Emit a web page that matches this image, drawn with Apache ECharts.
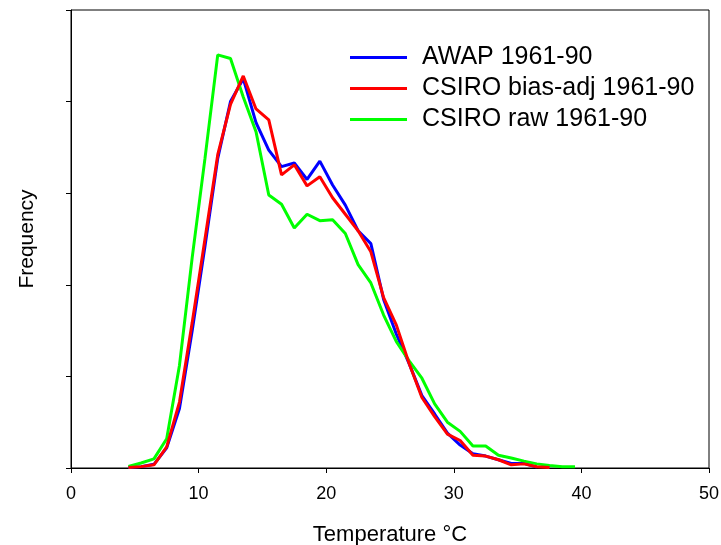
<!DOCTYPE html>
<html>
<head>
<meta charset="utf-8">
<script src="https://cdn.jsdelivr.net/npm/echarts@6/dist/echarts.min.js"></script>
<style>
  html, body { margin: 0; padding: 0; background: #fff; }
</style>
</head>
<body>
<div id="chart" style="width:721px;height:545px;"></div>
<script>
// bin centres (degC)
var temps = [4.5, 5.5, 6.5, 7.5, 8.5, 9.5, 10.5, 11.5, 12.5, 13.5, 14.5, 15.5, 16.5, 17.5, 18.5, 19.5,
  20.5, 21.5, 22.5, 23.5, 24.5, 25.5, 26.5, 27.5, 28.5, 29.5, 30.5, 31.5, 32.5, 33.5, 34.5, 35.5,
  36.5, 37.5, 38.5, 39.5];

var awap = [0.005, 0.015, 0.04, 0.22, 0.65, 1.5, 2.42, 3.38, 4.0, 4.25, 3.77, 3.47, 3.29, 3.33, 3.15, 3.35,
  3.09, 2.87, 2.59, 2.45, 1.84, 1.46, 1.14, 0.79, 0.59, 0.38, 0.25, 0.155, 0.13, 0.09, 0.05, 0.05,
  0.01];

var csiroAdj = [0.005, 0.015, 0.035, 0.23, 0.72, 1.59, 2.5, 3.42, 3.97, 4.28, 3.92, 3.8, 3.2, 3.31, 3.08, 3.18,
  2.95, 2.77, 2.59, 2.36, 1.86, 1.56, 1.14, 0.77, 0.56, 0.37, 0.3, 0.14, 0.13, 0.09, 0.035, 0.045,
  0.013, 0.005];

var csiroRaw = [0.016, 0.055, 0.1, 0.32, 1.12, 2.3, 3.38, 4.51, 4.47, 4.05, 3.67, 2.98, 2.88, 2.62, 2.77, 2.7,
  2.71, 2.56, 2.22, 2.02, 1.67, 1.38, 1.17, 0.98, 0.7, 0.5, 0.4, 0.24, 0.24, 0.14, 0.11, 0.075,
  0.045, 0.027, 0.013, 0.015];

var xTicks = [0, 10, 20, 30, 40, 50];

function pairs(vals) {
  var out = [];
  for (var i = 0; i < vals.length; i++) out.push([temps[i], vals[i]]);
  return out;
}

var font = 'Liberation Sans, Arial, sans-serif';
var chart = echarts.init(document.getElementById('chart'));

chart.setOption({
  animation: false,
  backgroundColor: '#fff',
  grid: {
    left: 71, right: 12, top: 10, bottom: 77,
    outerBoundsMode: 'none',
    show: true, borderColor: '#000', borderWidth: 1
  },
  legend: {
    orient: 'vertical',
    left: 345, top: 40,
    icon: 'rect',
    itemWidth: 57, itemHeight: 3,
    itemGap: 6,
    data: ['AWAP 1961-90', 'CSIRO bias-adj 1961-90', 'CSIRO raw 1961-90'],
    textStyle: { fontFamily: font, fontSize: 25, color: '#000', padding: [0, 0, 0, 10] }
  },
  xAxis: {
    type: 'value',
    min: xTicks[0], max: xTicks[xTicks.length - 1], interval: 10,
    name: 'Temperature °C',
    nameLocation: 'middle', nameGap: 56,
    nameTextStyle: { fontFamily: font, fontSize: 22, color: '#000' },
    axisLine: { show: true, onZero: false, lineStyle: { color: '#000', width: 1 } },
    axisTick: { show: true, length: 5, lineStyle: { color: '#000' } },
    axisLabel: { fontFamily: font, fontSize: 18, color: '#000', margin: 17 },
    splitLine: { show: false }
  },
  yAxis: {
    type: 'value',
    min: 0, max: 5, interval: 1,
    name: 'Frequency',
    nameLocation: 'middle', nameGap: 33,
    nameTextStyle: { fontFamily: font, fontSize: 21, color: '#000' },
    axisLine: { show: true, lineStyle: { color: '#000', width: 1 } },
    axisTick: { show: true, length: 5, lineStyle: { color: '#000' } },
    axisLabel: { show: false },
    splitLine: { show: false }
  },
  series: [
    {
      name: 'AWAP 1961-90', type: 'line', data: pairs(awap),
      symbol: 'none', color: '#0000ff', lineStyle: { width: 3, color: '#0000ff' }
    },
    {
      name: 'CSIRO raw 1961-90', type: 'line', data: pairs(csiroRaw),
      symbol: 'none', color: '#00ff00', lineStyle: { width: 3, color: '#00ff00' }
    },
    {
      name: 'CSIRO bias-adj 1961-90', type: 'line', data: pairs(csiroAdj),
      symbol: 'none', color: '#ff0000', lineStyle: { width: 3, color: '#ff0000' }
    }
  ]
});
</script>
</body>
</html>
